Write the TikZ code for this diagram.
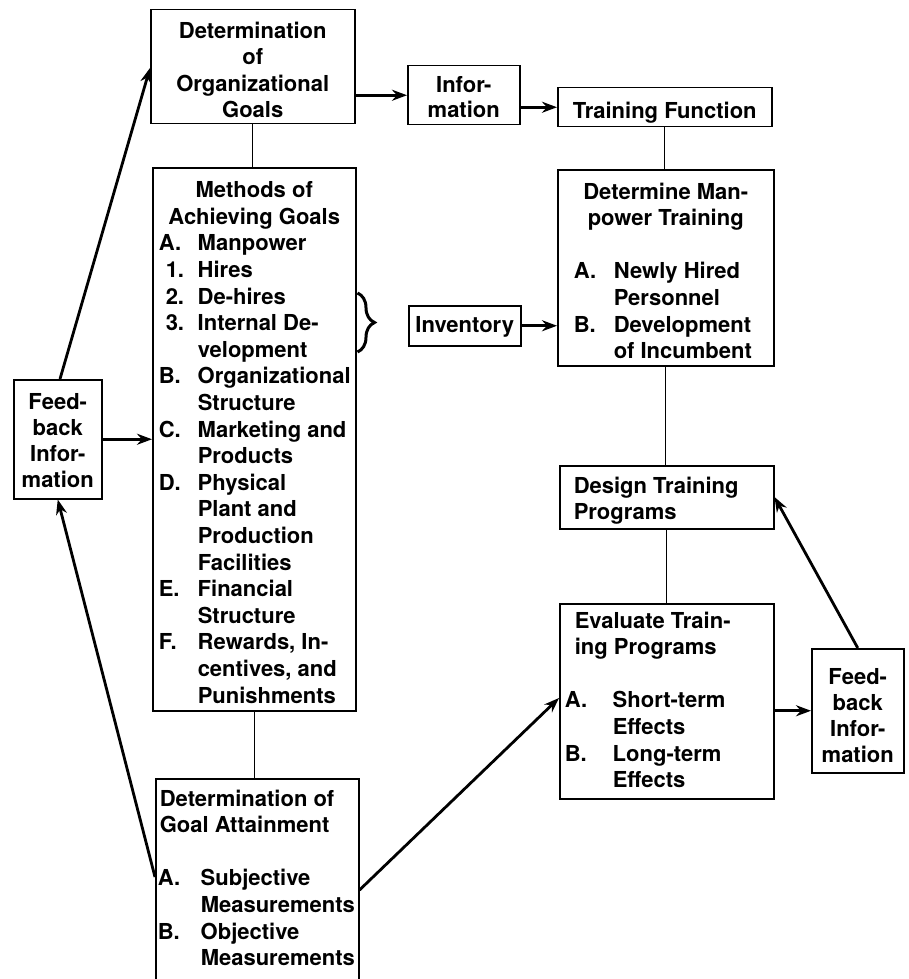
\documentclass[tikz,border=0pt]{standalone}
\usepackage{fontspec}
\setmainfont{TeX Gyre Heros}
\usetikzlibrary{arrows.meta,decorations.pathreplacing}
\tikzset{
  box/.style={draw, line width=1.5pt, inner sep=0pt, anchor=north west,
    font=\bfseries\fontsize{22}{26.6}\selectfont},
  conn/.style={line width=1.4pt},
  arr/.style={line width=2.8pt, -{Stealth[length=15pt,width=11pt]}},
  bracestyle/.style={line width=3pt, decorate, decoration={brace, amplitude=17pt}},
}
\newcommand\bx[4]{\parbox[c][#2pt][t]{#1pt}{\setlength\parskip{0pt}\vspace*{#3pt}#4}}
\newcommand\lab[2]{\makebox[#1pt][l]{#2}}
\begin{document}
\begin{tikzpicture}[x=1pt,y=-1pt]
\useasboundingbox (0,0) rectangle (908,979);

\node[box] (org) at (150,9) {\bx{204}{114}{12}{\centering Determination\\of\\Organizational\\Goals}};
\node[box] (info) at (407,65) {\bx{112}{59}{11}{\centering\fontsize{22}{25}\selectfont Infor-\\mation}};
\node[box] (tf) at (557,87) {\bx{214}{39}{14}{\centering Training Function}};

\node[box] (meth) at (152,167) {\bx{203}{543}{14}{%
{\centering Methods of\\Achieving Goals\par}
\raggedright\leftskip=6pt
\lab{39}{A.}Manpower\\
\hspace*{7pt}\lab{32}{1.}Hires\\
\hspace*{7pt}\lab{32}{2.}De-hires\\
\hspace*{7pt}\lab{32}{3.}Internal De-\\
\hspace*{39pt}velopment\\
\lab{39}{B.}Organizational\\
\hspace*{39pt}Structure\\
\lab{39}{C.}Marketing and\\
\hspace*{39pt}Products\\
\lab{39}{D.}Physical\\
\hspace*{39pt}Plant and\\
\hspace*{39pt}Production\\
\hspace*{39pt}Facilities\\
\lab{39}{E.}Financial\\
\hspace*{39pt}Structure\\
\lab{39}{F.}Rewards, In-\\
\hspace*{39pt}centives, and\\
\hspace*{39pt}Punishments}};

\node[box] (goal) at (155,778) {\bx{203}{203}{11}{%
\raggedright\leftskip=4pt Determination of\\Goal Attainment\par
\vspace{26.6pt}
\leftskip=2pt
\lab{43}{A.}Subjective\\
\hspace*{43pt}Measurements\\
\lab{43}{B.}Objective\\
\hspace*{43pt}Measurements}};

\node[box] (inv) at (408,305) {\bx{112}{40}{11}{\centering Inventory}};

\node[box] (dmt) at (557,169) {\bx{216}{196}{13}{%
{\centering Determine Man-\\power Training\par}
\vspace{26.6pt}
\raggedright\leftskip=16pt
\lab{40}{A.}Newly Hired\\
\hspace*{40pt}Personnel\\
\lab{40}{B.}Development\\
\hspace*{40pt}of Incumbent}};

\node[box] (design) at (559,465) {\bx{214}{63}{11}{%
\raggedright\leftskip=14pt Design Training\\Programs}};

\node[box] (eval) at (559,603) {\bx{214}{195}{8}{%
{\raggedright\leftskip=15pt Evaluate Train-\\ing Programs\par}
\vspace{26.6pt}
\raggedright\leftskip=5pt
\lab{48}{A.}Short-term\\
\hspace*{48pt}Effects\\
\lab{48}{B.}Long-term\\
\hspace*{48pt}Effects}};

\node[box] (fbR) at (811,648) {\bx{92}{124}{20}{\centering\fontsize{22}{25.8}\selectfont Feed-\\back\\Infor-\\mation}};
\node[box] (fbL) at (13,379) {\bx{88}{119}{14}{\centering\fontsize{22}{25.8}\selectfont Feed-\\back\\Infor-\\mation}};

% plain connectors
\draw[conn] (org.south) -- (org.south |- meth.north);
\draw[conn] (meth.south) -- (meth.south |- goal.north);
\draw[conn] (tf.south) -- (tf.south |- dmt.north);
\draw[conn] (dmt.south) -- (dmt.south |- design.north);
\draw[conn] (design.south) -- (design.south |- eval.north);

% brace
\draw[bracestyle] ([xshift=1pt,yshift=-126pt]meth.north east) -- ([xshift=1pt,yshift=-185pt]meth.north east);

% arrows
\draw[arr] (info.west -| org.east) -- (info.west);
\draw[arr] (info.east |- tf.west) -- (tf.west);
\draw[arr] (inv.east) -- (inv.east -| dmt.west);
\draw[arr] ([xshift=47pt]fbL.north west) -- ([yshift=-59pt]org.north west);
\draw[arr] (fbL.east) -- (fbL.east -| meth.west);
\draw[arr] ([yshift=-99pt]goal.north west) -- (fbL.south);
\draw[arr] ([yshift=-112pt]goal.north east) -- ([yshift=-95pt]eval.north west);
\draw[arr] (fbR.west -| eval.east) -- (fbR.west);
\draw[arr] (fbR.north) -- ([yshift=-32pt]design.north east);
\end{tikzpicture}
\end{document}
